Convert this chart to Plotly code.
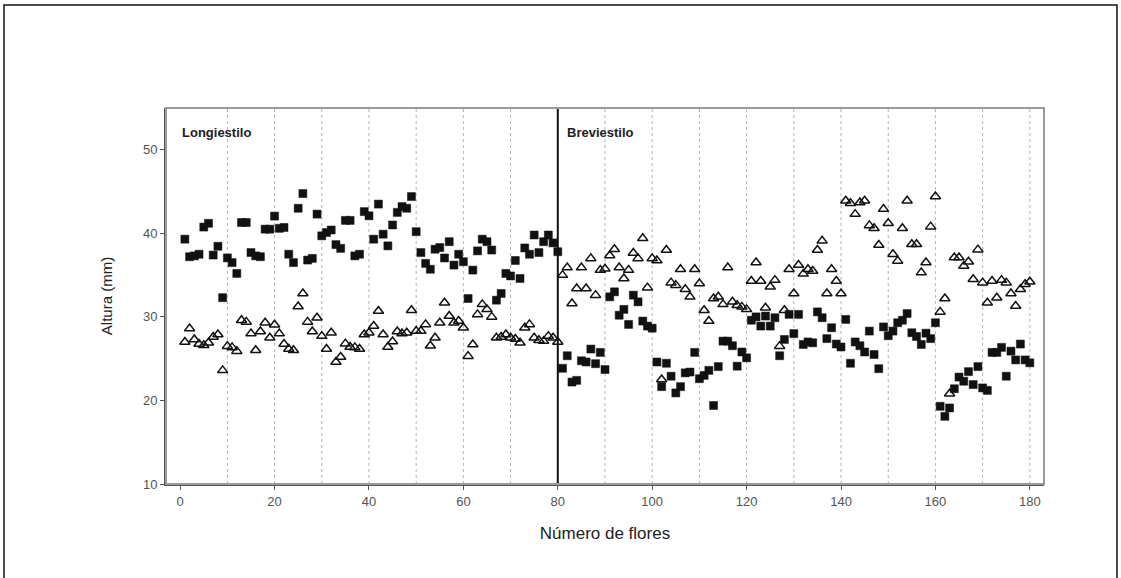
import plotly.graph_objects as go

flores = list(range(1, 181))

# Longiestilo (1-80) + Breviestilo (81-180): filled squares
cuadrados = [
    39.3, 37.2, 37.3, 37.5, 40.75, 41.2, 37.4, 38.45, 32.3, 37.06,
    36.5, 35.2, 41.3, 41.3, 37.7, 37.3, 37.2, 40.5, 40.5, 42.06,
    40.6, 40.7, 37.5, 36.5, 43.0, 44.76, 36.8, 37.0, 42.3, 39.7,
    40.1, 40.4, 38.65, 38.2, 41.55, 41.55, 37.3, 37.5, 42.6, 42.1,
    39.3, 43.5, 39.9, 38.5, 41.0, 42.5, 43.2, 43.0, 44.4, 40.2,
    37.7, 36.4, 35.7, 38.1, 38.3, 37.05, 39.0, 36.2, 37.5, 36.6,
    32.2, 35.6, 37.9, 39.3, 39.0, 38.0, 32.0, 32.8, 35.2, 34.9,
    36.75, 34.6, 38.25, 37.5, 39.8, 37.7, 39.0, 39.8, 38.85, 37.8,
    23.85, 25.35, 22.2, 22.4, 24.75, 24.6, 26.15, 24.4, 25.75, 23.7,
    32.4, 33.0, 30.2, 30.9, 29.1, 32.6, 31.8, 29.5, 28.9, 28.65,
    24.6, 21.65, 24.45, 22.9, 20.9, 21.65, 23.3, 23.4, 25.75, 22.6,
    23.0, 23.6, 19.4, 24.05, 27.1, 27.1, 26.55, 24.1, 25.8, 25.1,
    29.6, 30.0, 28.9, 30.1, 28.9, 29.9, 25.35, 27.3, 30.3, 28.0,
    30.3, 26.7, 27.0, 26.9, 30.6, 29.9, 27.4, 28.7, 26.75, 26.4,
    29.7, 24.45, 27.0, 26.55, 25.8, 28.3, 25.5, 23.8, 28.8, 27.75,
    28.3, 29.3, 29.6, 30.4, 28.1, 27.65, 26.7, 28.05, 27.4, 29.3,
    19.3, 18.1, 19.1, 21.4, 22.8, 22.3, 23.45, 21.9, 24.05, 21.5,
    21.2, 25.75, 25.75, 26.35, 22.9, 25.9, 24.85, 26.75, 24.85, 24.5,
]

# open triangles
triangulos = [
    27.0, 28.6, 27.3, 26.75, 26.6, 26.9, 27.6, 27.9, 23.6, 26.5,
    26.35, 25.9, 29.6, 29.4, 28.0, 26.0, 28.25, 29.3, 27.5, 29.05,
    28.0, 26.75, 26.15, 26.0, 31.25, 32.8, 29.4, 28.25, 29.9, 27.7,
    26.15, 28.1, 24.6, 25.2, 26.8, 26.4, 26.35, 26.15, 27.9, 28.1,
    28.9, 30.7, 27.9, 26.4, 27.06, 28.25, 28.0, 28.1, 30.8, 28.3,
    28.3, 29.1, 26.55, 27.5, 29.3, 31.7, 30.1, 29.3, 29.5, 28.7,
    25.3, 26.7, 30.3, 31.5, 30.9, 30.0, 27.5, 27.6, 27.9, 27.5,
    27.35, 26.9, 28.7, 29.1, 27.5, 27.2, 27.1, 27.7, 27.5, 27.0,
    35.0, 35.9, 31.6, 33.4, 35.9, 33.4, 37.0, 32.6, 35.6, 35.75,
    37.35, 38.1, 35.9, 34.6, 35.6, 37.65, 37.0, 39.4, 33.5, 37.0,
    36.75, 22.5, 38.0, 34.1, 33.8, 35.7, 33.3, 32.4, 35.7, 34.0,
    30.8, 29.5, 32.2, 32.4, 31.5, 35.9, 31.8, 31.4, 31.2, 30.9,
    34.3, 36.5, 34.3, 31.1, 33.6, 34.4, 26.5, 30.8, 35.7, 32.8,
    36.2, 35.15, 35.7, 35.5, 38.0, 39.1, 32.8, 35.7, 34.3, 32.8,
    43.9, 43.6, 42.3, 43.7, 43.9, 40.95, 40.6, 38.6, 42.9, 41.2,
    37.5, 36.7, 40.6, 43.9, 38.7, 38.7, 35.3, 36.5, 40.8, 44.4,
    30.6, 32.2, 20.8, 37.1, 37.1, 36.1, 36.6, 34.5, 38.05, 34.1,
    31.7, 34.3, 32.3, 34.4, 34.1, 32.8, 31.3, 33.3, 33.9, 34.2,
]

x_ticks = [0, 20, 40, 60, 80, 100, 120, 140, 160, 180]
y_ticks = [10, 20, 30, 40, 50]
divisiones = [10, 20, 30, 40, 50, 60, 70, 90, 100, 110, 120, 130, 140, 150, 160, 170, 180]
separador = 80
grupos = ["Longiestilo", "Breviestilo"]

FONT = "Liberation Sans, Arial, sans-serif"

fig = go.Figure()

fig.add_trace(go.Scatter(
    x=flores, y=triangulos, mode="markers",
    marker=dict(symbol="triangle-up-open", size=9, color="#111",
                line=dict(width=1.5, color="#111")),
    showlegend=False, hoverinfo="x+y"))
fig.add_trace(go.Scatter(
    x=flores, y=cuadrados, mode="markers",
    marker=dict(symbol="square", size=8, color="#111",
                line=dict(width=0.5, color="#111")),
    showlegend=False, hoverinfo="x+y"))

shapes = []
for d in divisiones:
    shapes.append(dict(type="line", xref="x", yref="paper", x0=d, x1=d, y0=0, y1=1,
                       line=dict(color="#b5b5b5", width=1, dash="dot"), layer="below"))
shapes.append(dict(type="line", xref="x", yref="paper", x0=separador, x1=separador, y0=0, y1=1,
                   line=dict(color="#111", width=2)))
# plot frame
shapes.append(dict(type="rect", xref="paper", yref="paper", x0=0, x1=1, y0=0, y1=1,
                   line=dict(color="#9a9a9a", width=2)))
# outer border of the figure
shapes.append(dict(type="rect", xref="paper", yref="paper",
                   x0=-0.1845, x1=1.0831, y0=-0.30, y1=1.274,
                   line=dict(color="#111", width=1.5)))

annotations = [
    dict(text="<b>" + grupos[0] + "</b>", x=0.0164, y=0.935, xref="paper", yref="paper",
         xanchor="left", yanchor="middle", showarrow=False,
         font=dict(family=FONT, size=13, color="#222")),
    dict(text="<b>" + grupos[1] + "</b>", x=0.4545, y=0.935, xref="paper", yref="paper",
         xanchor="left", yanchor="middle", showarrow=False,
         font=dict(family=FONT, size=13, color="#222")),
]

fig.update_layout(
    width=1121, height=578,
    margin=dict(l=166, r=77, t=108, b=94),
    paper_bgcolor="white", plot_bgcolor="white",
    shapes=shapes, annotations=annotations,
    font=dict(family=FONT, color="#333"),
    xaxis=dict(range=[-3, 183], tickvals=x_ticks, ticks="outside", ticklen=4,
               tickcolor="#555", showgrid=False, zeroline=False,
               showline=True, linecolor="#555", linewidth=2,
               tickfont=dict(size=13, color="#555"),
               title=dict(text="Número de flores", font=dict(size=17, color="#222"), standoff=20)),
    yaxis=dict(range=[10, 55], tickvals=y_ticks, ticks="outside", ticklen=4,
               tickcolor="#555", showgrid=False, zeroline=False,
               showline=True, linecolor="#555", linewidth=2,
               tickfont=dict(size=13, color="#555"),
               title=dict(text="Altura (mm)", font=dict(size=15, color="#222"), standoff=27)),
)

fig.write_html("out.html", config={"displayModeBar": False},
               post_script="document.body.style.margin='0';")
